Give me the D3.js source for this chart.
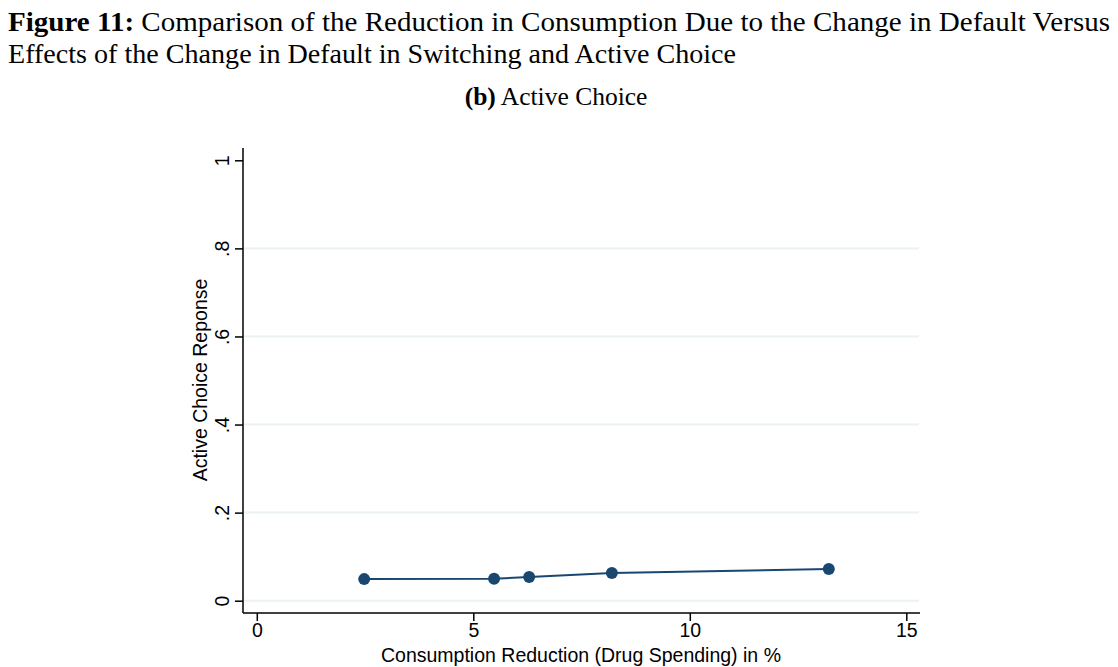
<!DOCTYPE html>
<html>
<head>
<meta charset="utf-8">
<script src="https://cdn.jsdelivr.net/npm/d3@7"></script>
<style>
  body { margin: 0; background: #fff; }
  svg { display: block; }
</style>
</head>
<body>
<svg id="chart" width="1118" height="667"></svg>
<script>
// values
const reduction = [2.48, 5.48, 6.29, 8.20, 13.21];
const response = [0.049, 0.050, 0.054, 0.063, 0.072];
const xTicks = [0, 5, 10, 15];
const yTicks = [0, 0.2, 0.4, 0.6, 0.8, 1];
const yTickLabels = ["0", ".2", ".4", ".6", ".8", "1"];

const points = reduction.map((r, i) => ({ x: r, y: response[i] }));

const svg = d3.select("svg#chart");

// frame of the plot region
const plotLeft = 243, plotRight = 920, plotTop = 148, plotBottom = 613;

const x = d3.scaleLinear().domain([0, 15]).range([256.8, 906.3]);
const y = d3.scaleLinear().domain([0, 1]).range([600.7, 160.3]);

const sans = "Liberation Sans, Arial, sans-serif";
const serif = "Liberation Serif, Times New Roman, serif";

// titles
const title = svg.append("text")
    .attr("x", 8).attr("y", 31)
    .attr("font-family", serif)
    .attr("font-size", 27)
    .attr("textLength", 1102)
    .attr("lengthAdjust", "spacingAndGlyphs");
title.append("tspan").attr("font-weight", "bold").text("Figure 11:");
title.append("tspan").text(" Comparison of the Reduction in Consumption Due to the Change in Default Versus");

svg.append("text")
    .attr("x", 8).attr("y", 63)
    .attr("font-family", serif)
    .attr("font-size", 27)
    .attr("textLength", 728)
    .attr("lengthAdjust", "spacingAndGlyphs")
    .text("Effects of the Change in Default in Switching and Active Choice");

const sub = svg.append("text")
    .attr("x", 556).attr("y", 105)
    .attr("text-anchor", "middle")
    .attr("font-family", serif)
    .attr("font-size", 25.5);
sub.append("tspan").attr("font-weight", "bold").text("(b)");
sub.append("tspan").text(" Active Choice");

// gridlines
svg.append("g")
  .selectAll("line")
  .data(yTicks.filter(d => d < 1))
  .join("line")
    .attr("x1", plotLeft + 1).attr("x2", plotRight - 1)
    .attr("y1", d => y(d)).attr("y2", d => y(d))
    .attr("stroke", "#eaf2f3")
    .attr("stroke-width", 2);

// y axis
const yAxis = svg.append("g")
    .attr("transform", `translate(${plotLeft},0)`)
    .call(d3.axisLeft(y).tickValues(yTicks).tickSize(8)
      .tickFormat((d, i) => yTickLabels[i]));
yAxis.select(".domain").attr("d", `M0,${plotTop}V${plotBottom}`).attr("stroke", "#000").attr("stroke-width", 1.5);
yAxis.selectAll(".tick line").attr("stroke", "#000").attr("stroke-width", 1.5);
yAxis.selectAll(".tick text")
    .attr("x", null).attr("dy", null)
    .attr("text-anchor", "middle")
    .attr("transform", "translate(-14,0) rotate(-90)")
    .attr("font-family", sans)
    .attr("font-size", 19.5)
    .attr("fill", "#000");

// x axis
const xAxis = svg.append("g")
    .attr("transform", `translate(0,${plotBottom})`)
    .call(d3.axisBottom(x).tickValues(xTicks).tickSize(8));
xAxis.select(".domain").attr("d", `M${plotLeft},0H${plotRight}`).attr("stroke", "#000").attr("stroke-width", 1.5);
xAxis.selectAll(".tick line").attr("stroke", "#000").attr("stroke-width", 1.5);
xAxis.selectAll(".tick text")
    .attr("y", 10)
    .attr("font-family", sans)
    .attr("font-size", 19.5)
    .attr("fill", "#000");

// axis titles
svg.append("text")
    .attr("transform", "translate(207,380) rotate(-90)")
    .attr("text-anchor", "middle")
    .attr("font-family", sans)
    .attr("font-size", 19.5)
    .text("Active Choice Reponse");

svg.append("text")
    .attr("x", 581).attr("y", 662)
    .attr("text-anchor", "middle")
    .attr("font-family", sans)
    .attr("font-size", 19.5)
    .text("Consumption Reduction (Drug Spending) in %");

// series
const line = d3.line().x(d => x(d.x)).y(d => y(d.y));
svg.append("path")
    .datum(points)
    .attr("d", line)
    .attr("fill", "none")
    .attr("stroke", "#1a476f")
    .attr("stroke-width", 2);

svg.append("g")
  .selectAll("circle")
  .data(points)
  .join("circle")
    .attr("cx", d => x(d.x))
    .attr("cy", d => y(d.y))
    .attr("r", 6)
    .attr("fill", "#1a476f");
</script>
</body>
</html>
